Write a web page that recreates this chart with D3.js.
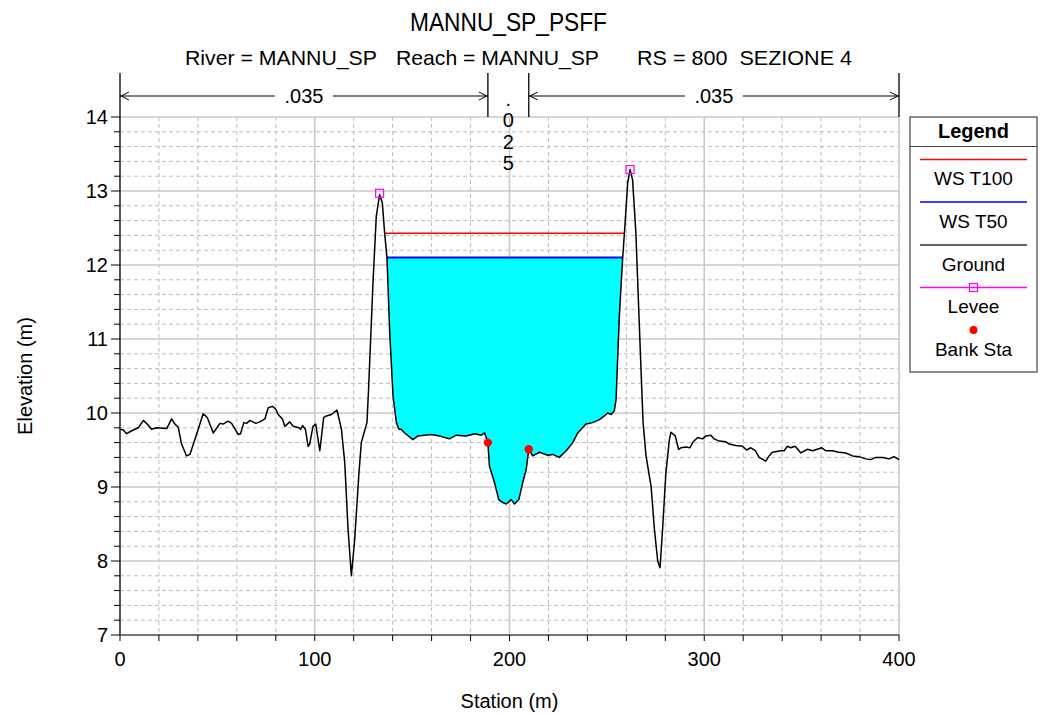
<!DOCTYPE html>
<html><head><meta charset="utf-8">
<script src="https://cdn.jsdelivr.net/npm/d3@7"></script>
<style>body{margin:0;background:#fff}svg{display:block}text{font-family:"Liberation Sans",Arial,sans-serif;fill:#000;white-space:pre}</style>
</head><body>
<svg id="c" width="1046" height="715"></svg>
<script>
const title = "MANNU_SP_PSFF";
const subtitleParts = ["River = MANNU_SP", "Reach = MANNU_SP", "RS = 800  SEZIONE 4"];
const xTicks = [0, 100, 200, 300, 400];
const yTicks = [7, 8, 9, 10, 11, 12, 13, 14];
const groundStation = [0,1.7,3.4,6,9.4,12,14,16.2,18.8,24,26.5,28.2,29.9,31.6,34.2,35.9,39.3,42.7,44.8,47.9,51.3,53,55.5,57.3,60.7,61.9,63.6,65,66.7,69.7,71.8,74.4,76.1,78.3,80,81.2,83.4,84.6,87.2,88.9,91.9,92.7,93.7,95.2,96.6,97.4,99.1,100.5,102.6,104.6,106,108.6,111.4,113.7,115.4,117.1,118.8,120.5,122.7,123.9,125.6,126.8,127.6,129.9,131.6,133.3,134.7,135.9,137.1,138.5,140.2,141.9,143.2,144.4,146.2,150.4,153,159.8,164.1,169.2,172.7,177.8,182.1,185.5,187.2,188.9,189.7,192.3,194.5,196.6,198.3,200.9,202.6,204.8,206.8,208.6,209.9,211.9,215.4,219.6,222.2,225.6,229.1,232.5,235,239.3,242.7,246.2,248.7,250.4,252.2,253.8,254.7,256.4,258.1,259,260.7,261.9,263.2,264.9,266.5,267.8,268.6,270.1,272.7,274.4,276.1,277.3,278.6,280.3,282.1,282.9,285.1,286.8,288,290.6,292.7,294,296.6,299.1,300.9,303.4,305.1,307.7,311.1,312.8,316.2,319.7,321.7,323.9,326.2,328.2,331.6,333.3,335,339.3,341,342.7,344.4,346.7,349.6,353,355.6,360.4,362.4,365.8,369.2,372.7,376.1,379.5,382.9,385.5,388,391.5,394.9,397.4,400];
const groundElev = [9.78,9.77,9.72,9.76,9.80,9.90,9.85,9.78,9.80,9.79,9.92,9.85,9.81,9.58,9.42,9.44,9.71,9.99,9.94,9.73,9.86,9.85,9.89,9.86,9.71,9.72,9.87,9.86,9.90,9.86,9.88,9.92,10.07,10.09,10.05,9.98,9.92,9.82,9.88,9.82,9.80,9.78,9.83,9.78,9.55,9.58,9.82,9.85,9.49,9.94,9.96,9.98,10.04,9.78,9.33,8.43,7.80,8.29,9.19,9.60,9.76,9.87,10.3,11.76,12.66,12.95,12.84,12.43,12.09,11.08,10.23,9.87,9.78,9.78,9.73,9.64,9.69,9.71,9.69,9.65,9.70,9.69,9.72,9.70,9.73,9.60,9.28,9.06,8.83,8.79,8.77,8.83,8.77,8.83,9.06,9.24,9.51,9.42,9.47,9.43,9.44,9.40,9.49,9.60,9.73,9.85,9.87,9.91,9.96,10.00,9.98,10.03,10.18,11.31,12.09,12.43,13.11,13.29,13.15,12.43,11.3,10.4,9.87,9.42,9.01,8.43,8.00,7.91,8.43,9.19,9.64,9.74,9.69,9.51,9.53,9.54,9.53,9.60,9.67,9.65,9.69,9.70,9.65,9.62,9.61,9.58,9.56,9.55,9.50,9.53,9.49,9.40,9.35,9.42,9.47,9.49,9.49,9.55,9.53,9.55,9.46,9.51,9.49,9.53,9.49,9.49,9.47,9.46,9.42,9.41,9.38,9.37,9.40,9.40,9.38,9.41,9.37];
const wsNames = ["WS T100", "WS T50"];
const wsElev = [12.43, 12.10];
const leveeStation = [133.3, 261.9];
const leveeElev = [12.97, 13.29];
const bankStation = [188.9, 209.9];
const bankElev = [9.60, 9.51];
const manningN = [".035", ".025", ".035"];
const legendLabels = ["WS T100", "WS T50", "Ground", "Levee", "Bank Sta"];

const svg = d3.select("#c");
const x = d3.scaleLinear().domain([0, 400]).range([120, 899]);
const y = d3.scaleLinear().domain([7, 14]).range([635, 117]);
const [X0, X1] = x.range(); const [Y0, Y1] = y.range();

// grid
const g = svg.append("g");
const minorX = d3.range(0, 401, 20).filter(v => v % 100 !== 0);
const minorY = d3.range(7, 14.001, 0.2).map(v => +v.toFixed(1)).filter(v => Math.abs(v - Math.round(v)) > 1e-6);
g.selectAll(".mx").data(minorX).join("line").attr("x1", d => x(d)).attr("x2", d => x(d)).attr("y1", Y1).attr("y2", Y0)
  .attr("stroke", "#bdbdbd").attr("stroke-dasharray", "4,3").attr("stroke-width", 1);
g.selectAll(".my").data(minorY).join("line").attr("y1", d => y(d)).attr("y2", d => y(d)).attr("x1", X0).attr("x2", X1)
  .attr("stroke", "#bdbdbd").attr("stroke-dasharray", "4,3").attr("stroke-width", 1);
g.selectAll(".Mx").data(xTicks).join("line").attr("x1", d => x(d)).attr("x2", d => x(d)).attr("y1", Y1).attr("y2", Y0)
  .attr("stroke", "#c8c8c8").attr("stroke-width", 1.6);
g.selectAll(".My").data(yTicks).join("line").attr("y1", d => y(d)).attr("y2", d => y(d)).attr("x1", X0).attr("x2", X1)
  .attr("stroke", "#c8c8c8").attr("stroke-width", 1.6);

// water fill & ws lines
const ground = groundStation.map((s, i) => [s, groundElev[i]]);
function wsExtent(ws) {
  const li = d3.minIndex(groundStation, s => Math.abs(s - leveeStation[0]));
  const ri = d3.minIndex(groundStation, s => Math.abs(s - leveeStation[1]));
  let a = li; while (a < ri && !(groundElev[a] >= ws && groundElev[a + 1] < ws)) a++;
  let b = ri; while (b > li && !(groundElev[b] >= ws && groundElev[b - 1] < ws)) b--;
  const interp = (i, j) => groundStation[i] + (ws - groundElev[i]) / (groundElev[j] - groundElev[i]) * (groundStation[j] - groundStation[i]);
  return { xl: interp(a, a + 1), xr: interp(b - 1, b), a, b };
}
const e50 = wsExtent(wsElev[1]);
const poly = [[e50.xl, wsElev[1]]].concat(ground.slice(e50.a + 1, e50.b)).concat([[e50.xr, wsElev[1]]]);
svg.append("path").attr("d", d3.line().x(d => x(d[0])).y(d => y(d[1]))(poly) + "Z").attr("fill", "#00ffff");
const wsColors = ["#ff0000", "#0000ff"];
wsElev.forEach((w, i) => {
  const e = wsExtent(w);
  svg.append("line").attr("x1", x(e.xl)).attr("x2", x(e.xr)).attr("y1", y(w)).attr("y2", y(w))
    .attr("stroke", wsColors[i]).attr("stroke-width", i === 1 ? 2 : 1.5);
});

// ground
svg.append("path").attr("d", d3.line().x(d => x(d[0])).y(d => y(d[1]))(ground))
  .attr("fill", "none").attr("stroke", "#000").attr("stroke-width", 1.5).attr("stroke-linejoin", "round");

// levees
svg.selectAll(".lev").data(leveeStation).join("rect").attr("x", (d) => x(d) - 4).attr("y", (d, i) => y(leveeElev[i]) - 4)
  .attr("width", 8).attr("height", 8).attr("fill", "none").attr("stroke", "#ff00ff").attr("stroke-width", 1.2);
// bank stations
svg.selectAll(".bank").data(bankStation).join("circle").attr("cx", d => x(d)).attr("cy", (d, i) => y(bankElev[i]))
  .attr("r", 4.2).attr("fill", "#ff0000");

// axes
svg.append("line").attr("x1", X0).attr("x2", X0).attr("y1", Y1).attr("y2", Y0).attr("stroke", "#000").attr("stroke-width", 1.2);
svg.append("line").attr("x1", X0).attr("x2", X1).attr("y1", Y0).attr("y2", Y0).attr("stroke", "#555").attr("stroke-width", 1.6);
const allY = d3.range(7, 14.001, 0.2).map(v => +v.toFixed(1));
svg.selectAll(".yt").data(allY).join("line").attr("x1", d => yTicks.includes(d) ? X0 - 9 : X0 - 6).attr("x2", X0)
  .attr("y1", d => y(d)).attr("y2", d => y(d)).attr("stroke", "#000");
svg.selectAll(".xt").data(d3.range(0, 401, 20)).join("line").attr("x1", d => x(d)).attr("x2", d => x(d))
  .attr("y1", Y0).attr("y2", Y0 + 6).attr("stroke", "#000");
svg.selectAll(".yl").data(yTicks).join("text").attr("x", X0 - 12).attr("y", d => y(d)).attr("dy", "0.35em")
  .attr("text-anchor", "end").attr("font-size", 20).text(d => d);
svg.selectAll(".xl").data(xTicks).join("text").attr("x", d => x(d)).attr("y", 666)
  .attr("text-anchor", "middle").attr("font-size", 20).text(d => d);
svg.append("text").attr("x", x(200)).attr("y", 708).attr("text-anchor", "middle").attr("font-size", 20).text("Station (m)");
svg.append("text").attr("transform", "translate(32,376) rotate(-90)").attr("text-anchor", "middle").attr("font-size", 20).text("Elevation (m)");

// titles
svg.append("text").attr("x", 410).attr("y", 31).attr("font-size", 25).attr("font-family", "Liberation Sans Narrow, Liberation Sans")
  .attr("textLength", 197).attr("lengthAdjust", "spacingAndGlyphs").text(title);
const subX = [185, 396, 637], subW = [192, 203, 215];
subtitleParts.forEach((t, i) => svg.append("text").attr("x", subX[i]).attr("y", 65).attr("font-size", 21)
  .attr("font-family", "Liberation Sans Narrow, Liberation Sans").attr("textLength", subW[i]).attr("lengthAdjust", "spacingAndGlyphs").text(t));

// Manning's n annotation
const bx = [0, bankStation[0], bankStation[1], 400].map(x);
bx.forEach(v => svg.append("line").attr("x1", v).attr("x2", v).attr("y1", 73).attr("y2", Y1).attr("stroke", "#000").attr("stroke-width", 1.3));
const ay = 96;
function arrowSeg(a, b, label) {
  const mid = (a + b) / 2, half = 29;
  svg.append("line").attr("x1", a).attr("x2", mid - half).attr("y1", ay).attr("y2", ay).attr("stroke", "#000");
  svg.append("line").attr("x1", mid + half).attr("x2", b).attr("y1", ay).attr("y2", ay).attr("stroke", "#000");
  svg.append("path").attr("d", `M${a + 9},${ay - 4}L${a + 1},${ay}L${a + 9},${ay + 4}`).attr("fill", "none").attr("stroke", "#000");
  svg.append("path").attr("d", `M${b - 9},${ay - 4}L${b - 1},${ay}L${b - 9},${ay + 4}`).attr("fill", "none").attr("stroke", "#000");
  svg.append("text").attr("x", mid).attr("y", ay + 7).attr("text-anchor", "middle").attr("font-size", 20).text(label);
}
arrowSeg(bx[0], bx[1], manningN[0]);
arrowSeg(bx[2], bx[3], manningN[2]);
manningN[1].split("").forEach((ch, i) => svg.append("text").attr("x", (bx[1] + bx[2]) / 2).attr("y", 105.5 + i * 21.5)
  .attr("text-anchor", "middle").attr("font-size", 20).text(ch));

// legend
const L = svg.append("g");
L.append("rect").attr("x", 910).attr("y", 117).attr("width", 127).attr("height", 255).attr("fill", "#fff").attr("stroke", "#444").attr("stroke-width", 1.2);
L.append("line").attr("x1", 910).attr("x2", 1037).attr("y1", 146.5).attr("y2", 146.5).attr("stroke", "#444").attr("stroke-width", 1.2);
L.append("text").attr("x", 973.5).attr("y", 138).attr("text-anchor", "middle").attr("font-size", 20).attr("font-weight", "bold").text("Legend");
const legLineY = [159.5, 202, 245, 287.5];
const legColors = ["#ff0000", "#0000ff", "#333", "#ff00ff"];
legLineY.forEach((ly, i) => L.append("line").attr("x1", 920).attr("x2", 1027).attr("y1", ly).attr("y2", ly).attr("stroke", legColors[i]).attr("stroke-width", 1.3));
L.append("rect").attr("x", 969.5).attr("y", 283.5).attr("width", 8).attr("height", 8).attr("fill", "none").attr("stroke", "#ff00ff").attr("stroke-width", 1.2);
L.append("circle").attr("cx", 973.5).attr("cy", 330).attr("r", 4).attr("fill", "#ff0000");
const legTextY = [185, 228, 271, 313, 356];
legendLabels.forEach((t, i) => L.append("text").attr("x", 973.5).attr("y", legTextY[i]).attr("text-anchor", "middle").attr("font-size", 19).text(t));
</script>
</body></html>
